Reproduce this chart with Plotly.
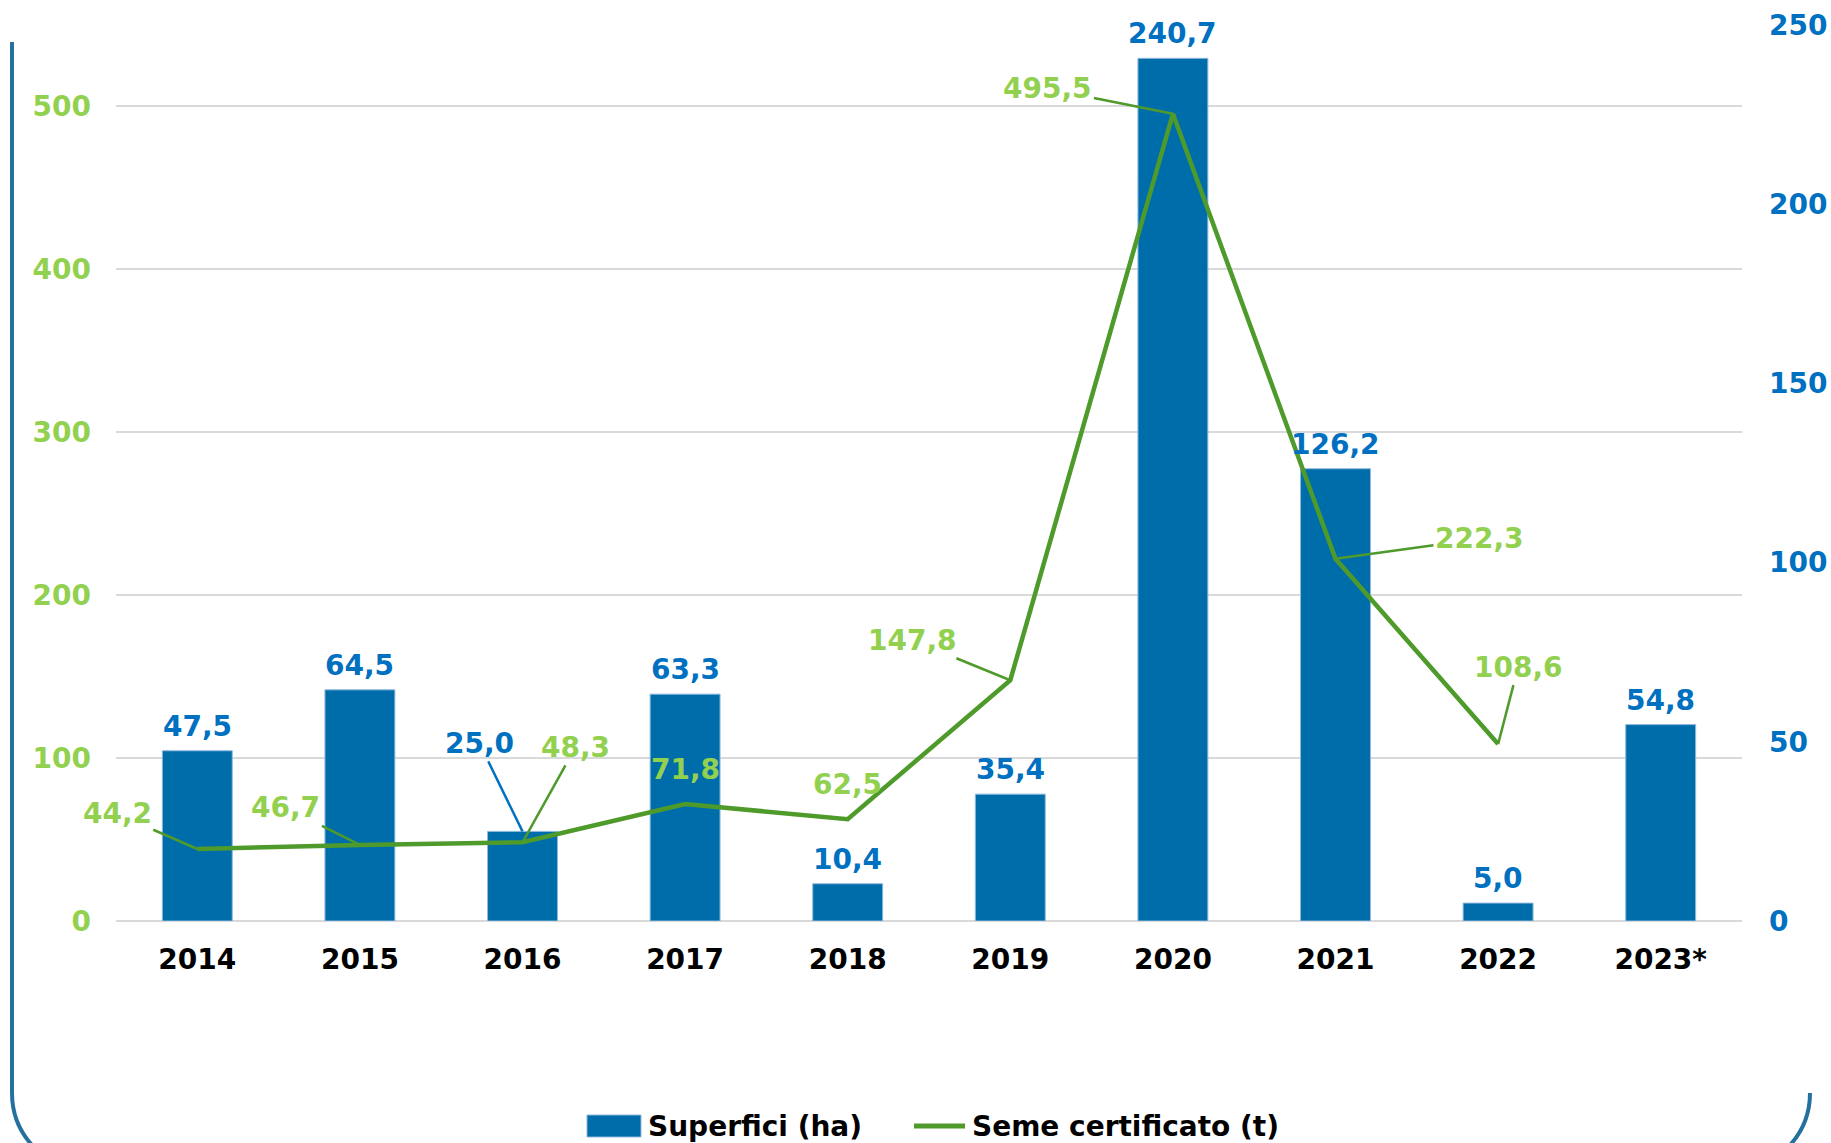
import plotly.graph_objects as go

# ---- data ----
years = ["2014", "2015", "2016", "2017", "2018", "2019", "2020", "2021", "2022", "2023*"]
superfici_ha = [47.5, 64.5, 25.0, 63.3, 10.4, 35.4, 240.7, 126.2, 5.0, 54.8]
seme_t = [44.2, 46.7, 48.3, 71.8, 62.5, 147.8, 495.5, 222.3, 108.6, None]
left_ticks = [0, 100, 200, 300, 400, 500]
right_ticks = [0, 50, 100, 150, 200, 250]
series_names = ["Superfici (ha)", "Seme certificato (t)"]

# ---- styles ----
BAR_COLOR = "#006dab"
BAR_LABEL = "#0070c0"
LINE_COLOR = "#4e9a2a"
LINE_LABEL = "#92d050"
FONT = "DejaVu Sans"
FS = 28

W, H = 1831, 1143
ML, MR, MT, MB = 116, 89, 25, 222
pw, ph = W - ML - MR, H - MT - MB


def px(x):
    return (x - ML) / pw


def py(y):
    return (H - MB - y) / ph


def fmt(v):
    return f"{v:.1f}".replace(".", ",")


fig = go.Figure()
fig.add_trace(go.Bar(
    x=years, y=superfici_ha, name=series_names[0], yaxis="y",
    marker=dict(color=BAR_COLOR, line=dict(color="#8fb9dc", width=1)),
    width=0.43, showlegend=False,
))
fig.add_trace(go.Scatter(
    x=years, y=seme_t, name=series_names[1], yaxis="y2",
    mode="lines", line=dict(color=LINE_COLOR, width=4.5), showlegend=False,
))

annotations = []
# bar labels (offsets in pixels; None = straight above)
bar_offsets = {"2016": (-43, -88)}
for i, (x, v) in enumerate(zip(years, superfici_ha)):
    off = bar_offsets.get(x)
    base = dict(x=i, y=v, xref="x", yref="y", text=fmt(v),
                font=dict(family=FONT, size=FS, color=BAR_LABEL, weight="bold"))
    if off:
        annotations.append(dict(**base, showarrow=True, ax=off[0], ay=off[1],
                                arrowhead=0, arrowwidth=2.5, arrowcolor=BAR_LABEL,
                                standoff=0))
    else:
        annotations.append(dict(**base, showarrow=False, yanchor="bottom", yshift=6))

# line labels
line_offsets = {
    "2014": (-80, -35), "2015": (-74, -37), "2016": (53, -95),
    "2017": None, "2018": None, "2019": (-98, -40), "2020": (-125, -25),
    "2021": (144, -20), "2022": (20, -77),
}
for i, (x, v) in enumerate(zip(years, seme_t)):
    if v is None:
        continue
    off = line_offsets.get(x)
    base = dict(x=i, y=v, xref="x", yref="y2", text=fmt(v),
                font=dict(family=FONT, size=FS, color=LINE_LABEL, weight="bold"))
    if off:
        annotations.append(dict(**base, showarrow=True, ax=off[0], ay=off[1],
                                arrowhead=0, arrowwidth=2.5, arrowcolor=LINE_COLOR,
                                standoff=0))
    else:
        annotations.append(dict(**base, showarrow=False, yanchor="middle", yshift=35))

# legend (drawn manually to match the large swatches)
LEG_Y = 1126
annotations.append(dict(xref="paper", yref="paper", x=px(646), y=py(LEG_Y),
                        xanchor="left", yanchor="middle", showarrow=False,
                        text=series_names[0],
                        font=dict(family=FONT, size=FS, color="black", weight="bold")))
annotations.append(dict(xref="paper", yref="paper", x=px(970), y=py(LEG_Y),
                        xanchor="left", yanchor="middle", showarrow=False,
                        text=series_names[1],
                        font=dict(family=FONT, size=FS, color="black", weight="bold")))

# decorative frame (pixel -> paper)
frame_left = (f"M {px(12)} {py(42)} L {px(12)} {py(1093)} "
              f"C {px(12)} {py(1136)} {px(47)} {py(1171)} {px(90)} {py(1171)}")
frame_right = (f"M {px(1810)} {py(1093)} "
               f"C {px(1810)} {py(1136)} {px(1775)} {py(1171)} {px(1732)} {py(1171)}")
shapes = [
    dict(type="path", xref="paper", yref="paper", path=frame_left,
         line=dict(color="#2471a0", width=4)),
    dict(type="path", xref="paper", yref="paper", path=frame_right,
         line=dict(color="#2471a0", width=4)),
    dict(type="rect", xref="paper", yref="paper", x0=px(587), x1=px(641),
         y0=py(LEG_Y - 11), y1=py(LEG_Y + 11), fillcolor=BAR_COLOR,
         line=dict(color="#8fb9dc", width=1)),
    dict(type="line", xref="paper", yref="paper", x0=px(914), x1=px(965),
         y0=py(LEG_Y), y1=py(LEG_Y), line=dict(color=LINE_COLOR, width=5)),
]

fig.update_layout(
    width=W, height=H,
    margin=dict(l=ML, r=MR, t=MT, b=MB, autoexpand=False),
    plot_bgcolor="white", paper_bgcolor="white",
    font=dict(family=FONT, size=FS, color="black", weight="bold"),
    xaxis=dict(type="category", range=[-0.5, len(years) - 0.5], autorange=False,
               showgrid=False, showline=False, ticks="", automargin=False,
               tickfont=dict(family=FONT, size=FS, color="black", weight="bold"),
               ticklabelstandoff=19),
    yaxis=dict(side="right", range=[0, 250], tickvals=right_ticks, showgrid=False,
               zeroline=False, showline=False, ticks="", automargin=False,
               tickfont=dict(family=FONT, size=FS, color=BAR_LABEL, weight="bold"),
               ticklabelstandoff=26),
    yaxis2=dict(side="left", overlaying="y", range=[0, 550], tickvals=left_ticks,
                showgrid=True, gridcolor="#d9d9d9", gridwidth=2, automargin=False,
                zeroline=True, zerolinecolor="#d9d9d9", zerolinewidth=2,
                showline=False, ticks="",
                tickfont=dict(family=FONT, size=FS, color=LINE_LABEL, weight="bold"),
                ticklabelstandoff=24),
    annotations=annotations,
    shapes=shapes,
    showlegend=False,
)

fig.write_html("out.html", config={"displayModeBar": False},
               post_script="document.body.style.margin='0';document.body.style.overflow='hidden';")
